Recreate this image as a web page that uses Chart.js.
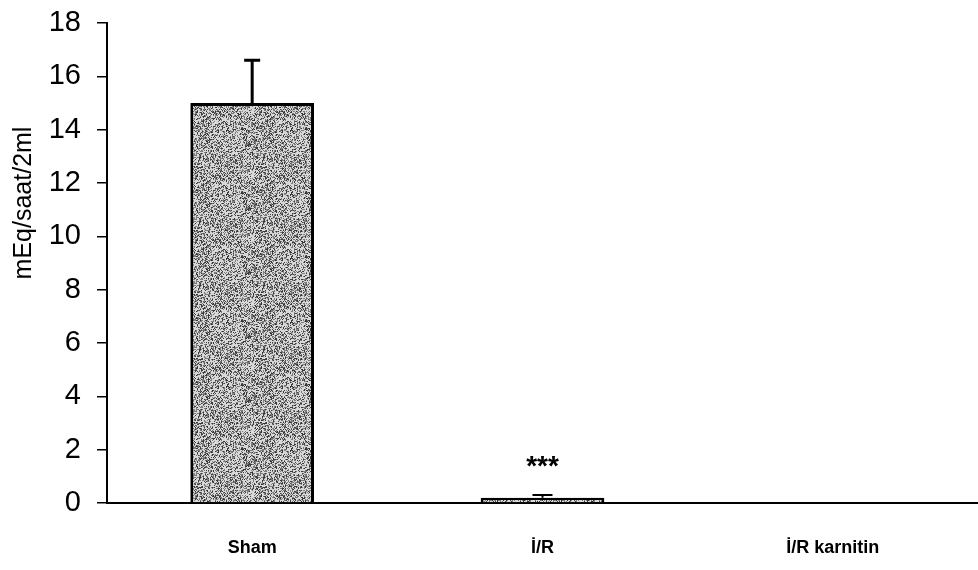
<!DOCTYPE html>
<html>
<head>
<meta charset="utf-8">
<script src="https://cdn.jsdelivr.net/npm/chart.js@4"></script>
<style>
  html, body { margin: 0; padding: 0; background: #fff; }
  #wrap { width: 978px; height: 570px; }
</style>
</head>
<body>
<div id="wrap"><canvas id="myChart" width="978" height="570"></canvas></div>
<script>
const categories = ['Sham', 'İ/R', 'İ/R karnitin'];
const values = [15, 0.2, 0];
const errors = [1.6, 0.1, 0];
const marks = ['', '***', ''];
const yTicks = [0, 2, 4, 6, 8, 10, 12, 14, 16, 18];
const yTitle = 'mEq/saat/2ml';

const FONT = '"Liberation Sans", Arial, sans-serif';

// grey speckled fill like the scanned print
function speckle() {
    const c = document.createElement('canvas');
    c.width = 64; c.height = 64;
    const g = c.getContext('2d');
    g.fillStyle = '#d8d8d8';
    g.fillRect(0, 0, 64, 64);
    let s = 12345;
    for (let y = 0; y < 64; y++) {
        for (let x = 0; x < 64; x++) {
            s = (s * 1103515245 + 12345) & 0x7fffffff;
            const v = s % 100;
            if (v < 45) {
                g.fillStyle = v < 20 ? '#3a3a3a' : '#7a7a7a';
                g.fillRect(x, y, 1, 1);
            }
        }
    }
    return g.createPattern(c, 'repeat');
}

const extras = {
    id: 'extras',
    afterDatasetsDraw(chart) {
        const ctx = chart.ctx;
        const meta = chart.getDatasetMeta(0);
        const y = chart.scales.y;
        ctx.save();
        meta.data.forEach((bar, i) => {
            if (errors[i] > 0) {
                const top = y.getPixelForValue(values[i] + errors[i]);
                const base = y.getPixelForValue(values[i]);
                const big = values[i] > 1;
                ctx.strokeStyle = '#000';
                ctx.lineWidth = big ? 3 : 2;
                ctx.beginPath();
                ctx.moveTo(bar.x, base);
                ctx.lineTo(bar.x, top);
                ctx.moveTo(bar.x - (big ? 8 : 10), top);
                ctx.lineTo(bar.x + (big ? 8 : 10), top);
                ctx.stroke();
            }
            if (marks[i]) {
                ctx.fillStyle = '#000';
                ctx.font = 'bold 28px ' + FONT;
                ctx.textAlign = 'center';
                ctx.textBaseline = 'alphabetic';
                ctx.fillText(marks[i], bar.x, y.getPixelForValue(values[i] + errors[i]) - 20);
            }
        });
        // axis title, placed where the original puts it
        ctx.translate(24, 203);
        ctx.rotate(-Math.PI / 2);
        ctx.fillStyle = '#000';
        ctx.font = '25px ' + FONT;
        ctx.textAlign = 'center';
        ctx.textBaseline = 'middle';
        ctx.fillText(yTitle, 0, 0);
        ctx.restore();
    }
};

function drawChart()
{
    const config = {
        type: 'bar',
        data: {
            labels: categories,
            datasets: [{
                data: values,
                backgroundColor: speckle(),
                borderColor: '#000',
                borderWidth: 3,
                barPercentage: 0.6,
                categoryPercentage: 0.71
            }]
        },
        options: {
            responsive: false,
            animation: false,
            layout: { padding: { top: 23, right: 0, left: 0, bottom: 0 } },
            plugins: {
                legend: { display: false },
                tooltip: { enabled: false }
            },
            scales: {
                x: {
                    grid: { display: false, drawTicks: false },
                    border: { color: '#000', width: 2 },
                    ticks: {
                        color: '#000',
                        padding: 34,
                        font: { size: 18, weight: 'bold', family: FONT }
                    },
                    afterFit: s => { s.height = 67; s.paddingRight = 0; }
                },
                y: {
                    min: 0,
                    max: 18,
                    afterBuildTicks: s => { s.ticks = yTicks.map(v => ({ value: v })); },
                    grid: { drawOnChartArea: false, tickLength: 10, color: '#000', lineWidth: 1.5 },
                    border: { color: '#000', width: 2 },
                    ticks: {
                        color: '#000',
                        padding: 16,
                        font: { size: 29, family: FONT }
                    },
                    afterFit: s => { s.width = 107; s.paddingTop = 0; s.paddingBottom = 0; }
                }
            }
        },
        plugins: [extras]
    };

    const myChart = new Chart(document.getElementById('myChart'), config);
}

window.onload = drawChart;
</script>
</body>
</html>
